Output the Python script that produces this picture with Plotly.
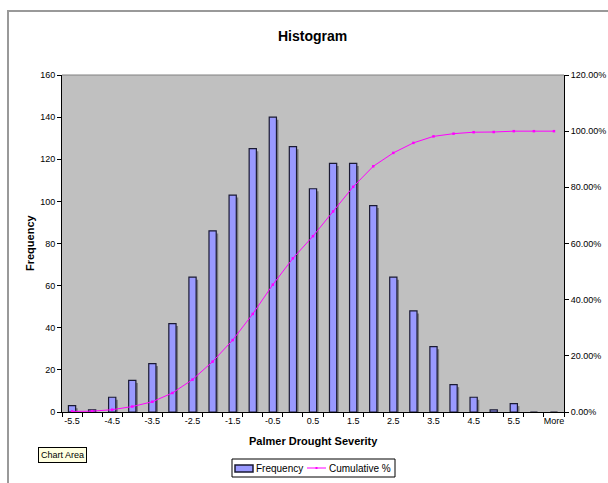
import plotly.graph_objects as go

categories = ["-5.5", "-5", "-4.5", "-4", "-3.5", "-3", "-2.5", "-2", "-1.5", "-1",
              "-0.5", "0", "0.5", "1", "1.5", "2", "2.5", "3", "3.5", "4",
              "4.5", "5", "5.5", "6", "More"]
frequency = [3, 1, 7, 15, 23, 42, 64, 86, 103, 125,
             140, 126, 106, 118, 118, 98, 64, 48, 31, 13,
             7, 1, 4, 0, 0]
cumulative = [0.0022, 0.0030, 0.0082, 0.0194, 0.0365, 0.0678, 0.1154, 0.1794, 0.2561, 0.3492,
              0.4535, 0.5473, 0.6262, 0.7141, 0.8019, 0.8749, 0.9226, 0.9583, 0.9814, 0.9911,
              0.9963, 0.9970, 1.0, 1.0, 1.0]
label_ticks = categories[::2]
series_names = ["Frequency", "Cumulative %"]

W, H = 608, 483
L, R, T, B = 62, 44, 75, 71
pw, ph = W - L - R, H - T - B

def px(x):
    return (x - L) / pw

def py(y):
    return (H - B - y) / ph

FONT = "Arial, Liberation Sans, sans-serif"
BAR_FILL = "#9999FF"
BAR_EDGE = "#1a1a33"
LINE_COL = "#FF00FF"

fig = go.Figure()
# shadow bars (on shifted hidden axes)
fig.add_trace(go.Bar(x=categories, y=frequency, xaxis="x", yaxis="y",
                     marker=dict(color="#7a7a7a", line=dict(width=0)),
                     width=0.36, showlegend=False, hoverinfo="skip"))
# main bars
fig.add_trace(go.Bar(x=categories, y=frequency, xaxis="x2", yaxis="y2", name=series_names[0],
                     marker=dict(color=BAR_FILL, line=dict(color=BAR_EDGE, width=1.2)),
                     width=0.36, showlegend=False))
# cumulative line
fig.add_trace(go.Scatter(x=categories, y=cumulative, xaxis="x3", yaxis="y3", name=series_names[1],
                         mode="lines+markers", showlegend=False,
                         line=dict(color=LINE_COL, width=1),
                         marker=dict(color=LINE_COL, size=2.5, symbol="square")))

ncat = len(categories)
shift = 0.1

# legend (drawn manually to match the compact Excel legend box)
leg_y = 468
shapes = [
    dict(type="line", xref="paper", yref="paper", x0=0, x1=1, y0=1, y1=1,
         line=dict(color="#808080", width=1)),
    dict(type="line", xref="paper", yref="paper", x0=px(8), x1=px(8), y0=py(11), y1=py(483),
         line=dict(color="#999999", width=2)),
    dict(type="line", xref="paper", yref="paper", x0=px(7), x1=px(608), y0=py(11), y1=py(11),
         line=dict(color="#999999", width=2)),
    dict(type="rect", xref="paper", yref="paper", x0=px(232), x1=px(395), y0=py(459), y1=py(477),
         fillcolor="white", line=dict(color="black", width=1)),
    dict(type="rect", xref="paper", yref="paper", x0=px(235), x1=px(253), y0=py(465), y1=py(472),
         fillcolor=BAR_FILL, line=dict(color=BAR_EDGE, width=1.5)),
    dict(type="line", xref="paper", yref="paper", x0=px(307), x1=px(326), y0=py(leg_y), y1=py(leg_y),
         line=dict(color=LINE_COL, width=1)),
    dict(type="rect", xref="paper", yref="paper", x0=px(315.5), x1=px(317.5), y0=py(leg_y - 1), y1=py(leg_y + 1),
         fillcolor=LINE_COL, line=dict(color=LINE_COL, width=0)),
]

fig.update_layout(
    width=W, height=H, autosize=False,
    margin=dict(l=L, r=R, t=T, b=B, autoexpand=False),
    paper_bgcolor="white", plot_bgcolor="#C0C0C0",
    font=dict(family=FONT, size=9, color="black"),
    barmode="overlay",
    showlegend=False,
    xaxis=dict(type="category", categoryarray=categories, range=[-0.5 - shift, ncat - 0.5 - shift],
               visible=False, fixedrange=True),
    yaxis=dict(range=[1.2, 161.2], visible=False, fixedrange=True),
    xaxis2=dict(type="category", categoryarray=categories, overlaying="x", range=[-0.5, ncat - 0.5],
                tickmode="array", tickvals=label_ticks, ticktext=label_ticks, ticks="",
                showline=True, linecolor="black", linewidth=1, showgrid=False, zeroline=False,
                automargin=False, tickfont=dict(size=9, family=FONT)),
    yaxis2=dict(overlaying="y", side="left", range=[0, 160], dtick=20, tickmode="linear", tick0=0,
                ticks="outside", ticklen=4, tickcolor="black", showline=True, linecolor="black",
                linewidth=1, showgrid=False, zeroline=False, automargin=False,
                tickfont=dict(size=9, family=FONT)),
    xaxis3=dict(type="category", categoryarray=categories, overlaying="x", range=[-0.5, ncat - 0.5],
                tickmode="linear", dtick=1, tickson="boundaries", ticks="outside", ticklen=4,
                tickcolor="black", showticklabels=False, showline=False, showgrid=False,
                zeroline=False, automargin=False),
    yaxis3=dict(overlaying="y", side="right", range=[0, 1.2], dtick=0.2, tickmode="linear", tick0=0,
                tickformat=".2%", ticks="outside", ticklen=4, tickcolor="black", showline=True,
                linecolor="black", linewidth=1, showgrid=False, zeroline=False, automargin=False,
                tickfont=dict(size=9, family=FONT)),
    shapes=shapes,
    annotations=[
        dict(text="<b>Histogram</b>", xref="paper", yref="paper", x=px(312), y=py(36),
             xanchor="center", yanchor="middle", showarrow=False, font=dict(size=14, family=FONT)),
        dict(text="<b>Palmer Drought Severity</b>", xref="paper", yref="paper", x=px(313), y=py(441),
             xanchor="center", yanchor="middle", showarrow=False, font=dict(size=11, family=FONT)),
        dict(text="<b>Frequency</b>", xref="paper", yref="paper", x=px(30), y=py(243),
             xanchor="center", yanchor="middle", textangle=-90, showarrow=False,
             font=dict(size=11, family=FONT)),
        dict(text="Chart Area", xref="paper", yref="paper", x=px(62), y=py(455),
             xanchor="center", yanchor="middle", showarrow=False, bgcolor="#FFFFE1",
             bordercolor="black", borderwidth=1, borderpad=2, font=dict(size=9, family=FONT)),
        dict(text=series_names[0], xref="paper", yref="paper", x=px(254), y=py(leg_y),
             xanchor="left", yanchor="middle", showarrow=False, font=dict(size=10, family=FONT)),
        dict(text=series_names[1], xref="paper", yref="paper", x=px(327), y=py(leg_y),
             xanchor="left", yanchor="middle", showarrow=False, font=dict(size=10, family=FONT)),
    ],
)

fig.write_html("out.html",
               post_script="document.body.style.margin='0';document.body.style.overflow='hidden';")
